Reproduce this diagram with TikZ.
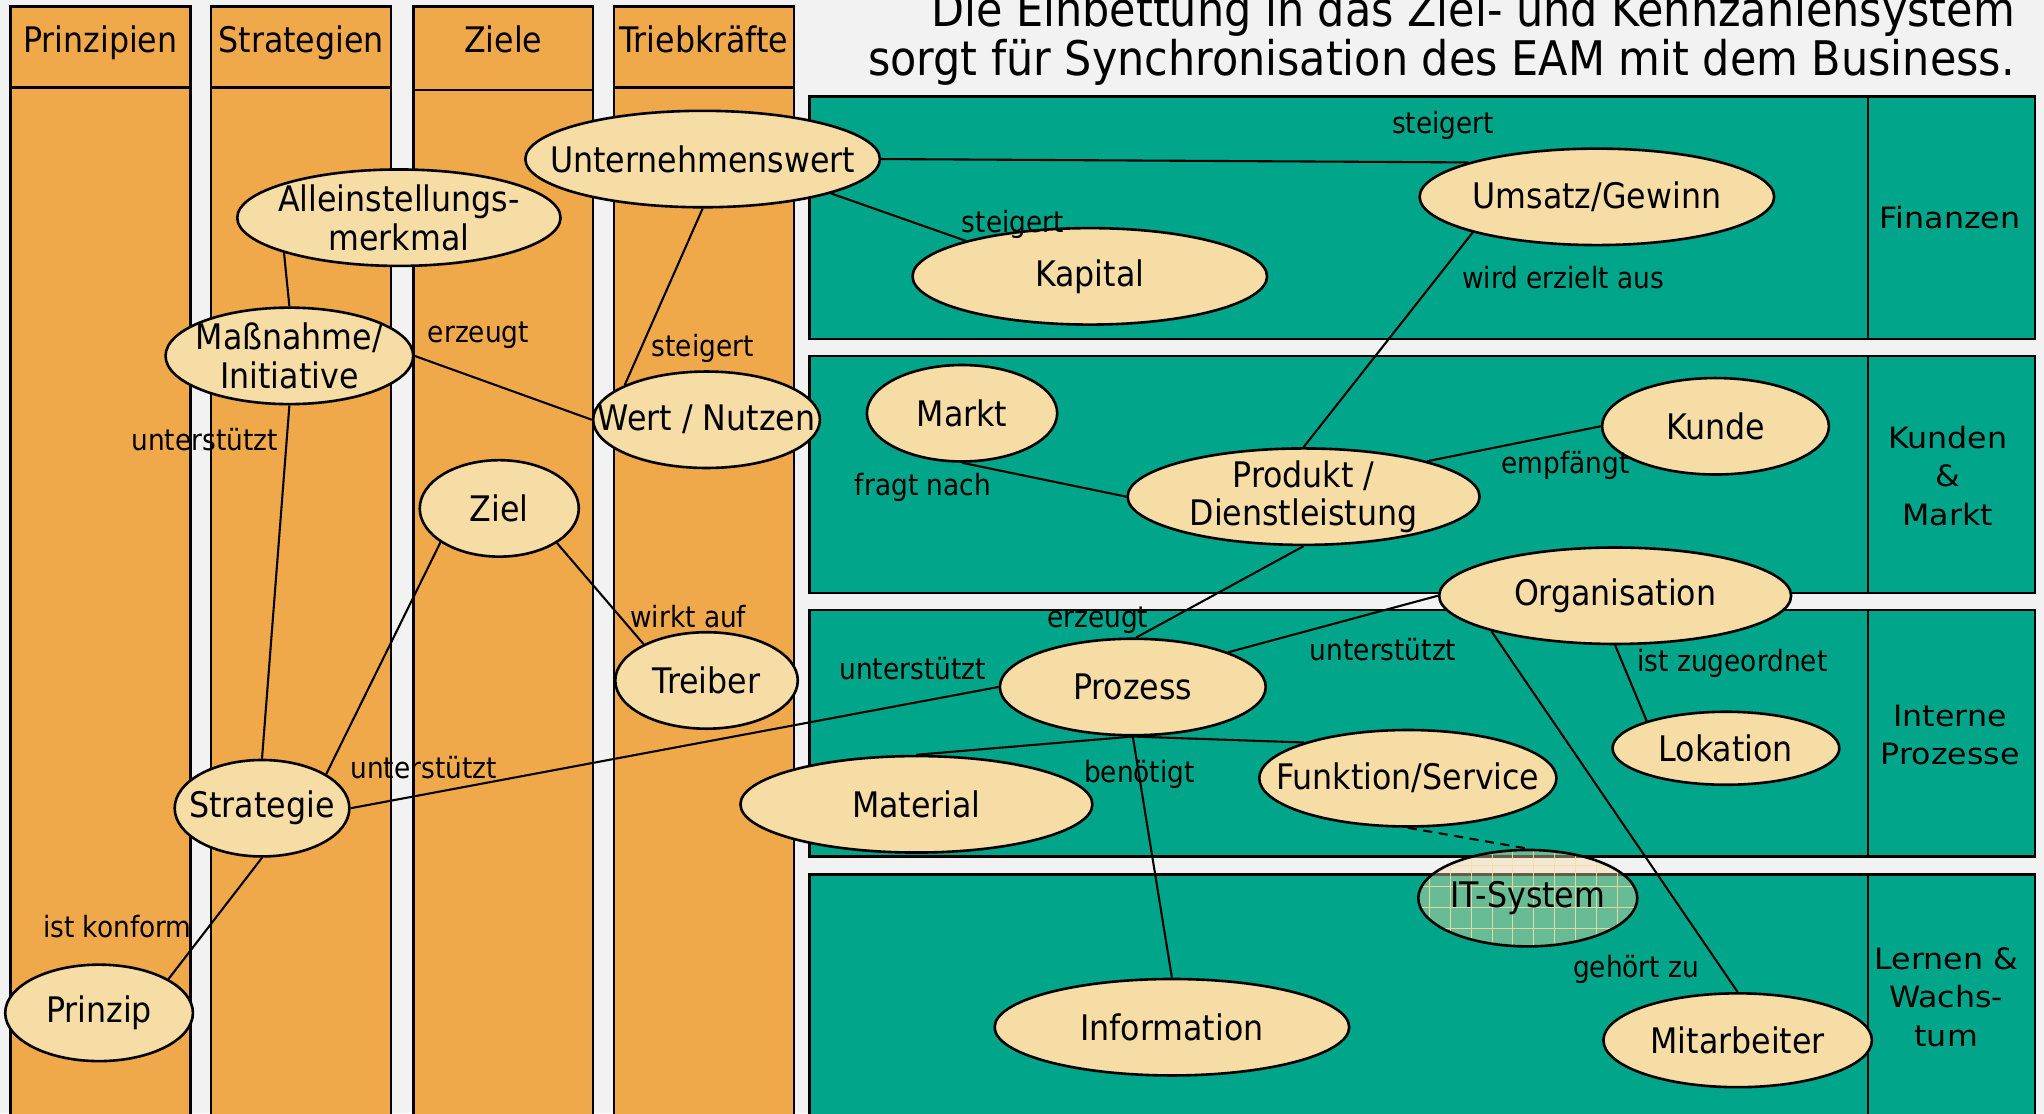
\documentclass[tikz,border=0pt]{standalone}
\usepackage{fontspec}
\setmainfont{DejaVu Sans Condensed}
\newfontfamily\widefont[FakeStretch=1.08]{DejaVu Sans}
\usetikzlibrary{shapes.geometric}
\definecolor{bgc}{RGB}{242,242,242}
\definecolor{orng}{RGB}{239,169,74}
\definecolor{grn}{RGB}{0,165,138}
\definecolor{beige}{RGB}{246,220,165}
\pgfdeclarelayer{back}
\pgfdeclarelayer{lines}
\pgfsetlayers{back,lines,main}
\begin{document}
\begin{tikzpicture}[x=1pt,y=-1pt,
  elnode/.style={ellipse, draw, line width=2pt, fill=beige, inner xsep=-60pt, inner ysep=-22pt,
    font=\fontsize{27}{29.5}\selectfont},
  itnode/.style={elnode, fill=beige, fill opacity=0.42, text opacity=1,
    path picture={\draw[beige, line width=0.8pt, draw opacity=0.9] (path picture bounding box.south west) grid[step=16pt] (path picture bounding box.north east);}},
  lbl/.style={inner sep=0, font=\fontsize{22.5}{24}\selectfont},
  hdrtext/.style={inner sep=0, anchor=base, font=\fontsize{27}{29.5}\selectfont},
  side/.style={inner sep=0, align=center, font=\widefont\fontsize{22.5}{29.5}\selectfont},
  ttl/.style={inner sep=0, anchor=base east, font=\fontsize{36.6}{38}\selectfont},
  colbox/.style={draw, line width=2pt, fill=orng},
  panel/.style={draw, line width=2pt, fill=grn},
  conn/.style={line width=1.6pt}]
\useasboundingbox (0,0) rectangle (1568,854);
\clip (0,0) rectangle (1568,854);
\begin{pgfonlayer}{back}
\fill[bgc] (0,0) rectangle (1568,854);
\foreach \x in {8,162,317,471}{
  \draw[colbox] (\x,5) rectangle ++(138,880);
}
\draw[line width=2pt] (8,67) -- ++(138,0);
\draw[line width=2pt] (162,67) -- ++(138,0);
\draw[line width=2pt] (317,69) -- ++(138,0);
\draw[line width=2pt] (471,67) -- ++(138,0);
\foreach \y/\h in {74/186,273/182,468/189,671/220}{
  \draw[panel] (621,\y) rectangle ++(940,\h);
  \draw[line width=2pt] (1433,\y) -- ++(0,\h);
}
\end{pgfonlayer}

% titles and headers
\node[ttl] (titleA) at (1546,20) {Die Einbettung in das Ziel- und Kennzahlensystem};
\node[ttl] (titleB) at (1546,58) {sorgt für Synchronisation des EAM mit dem Business.};
\node[hdrtext] (h1) at (77,40) {Prinzipien};
\node[hdrtext] (h2) at (231,40) {Strategien};
\node[hdrtext] (h3) at (386,40) {Ziele};
\node[hdrtext] (h4) at (540,40) {Triebkräfte};

\node[side] (s1) at (1496,167) {Finanzen};
\node[side] (s2) at (1494,365) {Kunden\\\&\\Markt};
\node[side] (s3) at (1496,564) {Interne\\Prozesse};
\node[side] (s4) at (1493,765) {Lernen \&\\Wachs-\\tum};

% ellipses
\node[elnode, minimum width=272, minimum height=74] (uw) at (539,122) {Unternehmenswert};
\node[elnode, minimum width=248, minimum height=74, align=center] (usp) at (306,167) {Alleinstellungs-\\merkmal};
\node[elnode, minimum width=190, minimum height=74, align=center] (mass) at (222,273) {Maßnahme/\\Initiative};
\node[elnode, minimum width=174, minimum height=74] (wert) at (542,322) {Wert / Nutzen};
\node[elnode, minimum width=122, minimum height=74] (ziel) at (383,390) {Ziel};
\node[elnode, minimum width=140, minimum height=74] (treib) at (542,522) {Treiber};
\node[elnode, minimum width=134, minimum height=74] (strat) at (201,620) {Strategie};
\node[elnode, minimum width=144, minimum height=74] (prinz) at (76,777) {Prinzip};
\node[elnode, minimum width=272, minimum height=74] (kap) at (836,212) {Kapital};
\node[elnode, minimum width=272, minimum height=74] (ums) at (1225,151) {Umsatz/Gewinn};
\node[elnode, minimum width=146, minimum height=74] (markt) at (738,317) {Markt};
\node[elnode, minimum width=174, minimum height=74] (kunde) at (1316,327) {Kunde};
\node[elnode, minimum width=270, minimum height=74, align=center] (prod) at (1000,381) {Produkt /\\Dienstleistung};
\node[elnode, minimum width=270, minimum height=74] (org) at (1239,457) {Organisation};
\node[elnode, minimum width=204, minimum height=74] (proz) at (869,527) {Prozess};
\node[elnode, minimum width=174, minimum height=56] (lok) at (1324,574) {Lokation};
\node[elnode, minimum width=228, minimum height=74] (funk) at (1080,597) {Funktion/Service};
\node[elnode, minimum width=270, minimum height=74] (mat) at (703,617) {Material};
\node[itnode, minimum width=168, minimum height=74] (it) at (1172,689) {IT-System};
\node[elnode, minimum width=272, minimum height=74] (info) at (899,788) {Information};
\node[elnode, minimum width=206, minimum height=72] (mit) at (1333,798) {Mitarbeiter};

% connectors
\begin{pgfonlayer}{lines}
\draw[conn] (uw.east) -- (ums.165);
\draw[conn] (uw.-15) -- (kap.164);
\draw[conn] (uw.south) -- (wert.157);
\draw[conn] (usp.197) -- (mass.north);
\draw[conn] (mass.east) -- (wert.west);
\draw[conn] (mass.south) -- (strat.north);
\draw[conn] (ziel.210) -- (strat.28);
\draw[conn] (ziel.-31) -- (treib.150);
\draw[conn] (prinz.26) -- (strat.south);
\draw[conn] (strat.east) -- (proz.west);
\draw[conn] (markt.south) -- (prod.west);
\draw[conn] (prod.16) -- (kunde.west);
\draw[conn] (prod.north) -- (ums.196);
\draw[conn] (prod.south) -- (proz.86);
\draw[conn] (org.west) -- (proz.20);
\draw[conn] (org.south) -- (lok.161);
\draw[conn] (org.196) -- (mit.north);
\draw[conn] (proz.south) -- (mat.north);
\draw[conn] (proz.south) -- (funk.161);
\draw[conn] (proz.south) -- (info.north);
\draw[conn, dashed, dash pattern=on 7pt off 5pt] (funk.south) -- (it.north);
\end{pgfonlayer}

% connector labels
\node[lbl] (l1) at (1107,96) {steigert};
\node[lbl] (l2) at (777,172) {steigert};
\node[lbl] (l3) at (539,267) {steigert};
\node[lbl] (l4) at (367,257) {erzeugt};
\node[lbl] (l5) at (157,337) {unterstützt};
\node[lbl] (l6) at (325,589) {unterstützt};
\node[lbl] (l7) at (528,473) {wirkt auf};
\node[lbl] (l8) at (90,711) {ist konform};
\node[lbl] (l9) at (708,374) {fragt nach};
\node[lbl] (l10) at (1201,357) {empfängt};
\node[lbl] (l11) at (1199,213) {wird erzielt aus};
\node[lbl] (l12) at (842,476) {erzeugt};
\node[lbl] (l13) at (700,513) {unterstützt};
\node[lbl] (l14) at (1061,498) {unterstützt};
\node[lbl] (l15) at (1329,509) {ist zugeordnet};
\node[lbl] (l16) at (1255,744) {gehört zu};
\node[lbl] (l17) at (874,594) {benötigt};
\end{tikzpicture}
\end{document}
